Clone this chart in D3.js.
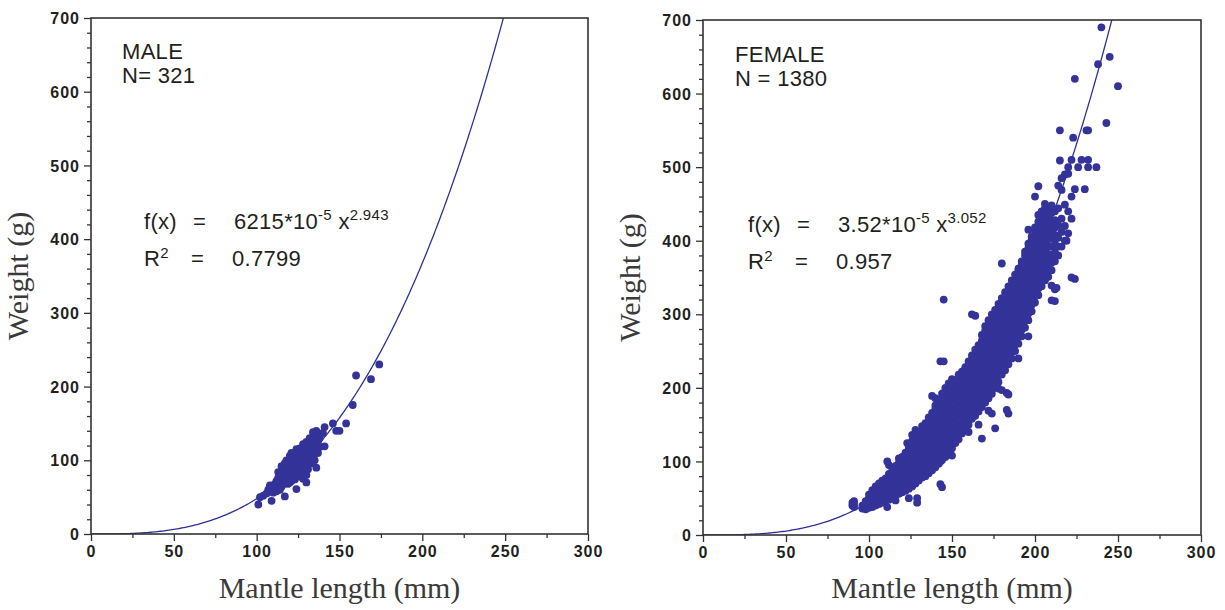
<!DOCTYPE html>
<html>
<head>
<meta charset="utf-8">
<script src="https://cdn.jsdelivr.net/npm/d3@7"></script>
<style>
  body { margin: 0; background: #fff; }
  svg { display: block; }
  .tick text { font-family: "Liberation Sans", Arial, sans-serif; font-weight: bold; font-size: 16px; letter-spacing: 1px; fill: #231f20; }
  .tick line { stroke: #333; stroke-width: 1.3; }
  .ann { font-family: "Liberation Sans", Arial, sans-serif; font-size: 22px; letter-spacing: 0.3px; fill: #231f20; }
  .title { font-family: "Liberation Serif", "Times New Roman", serif; font-size: 30px; fill: #3a3a3a; }
</style>
</head>
<body>
<div id="chart"></div>
<script>
// axis ticks
var xTicks = [0, 50, 100, 150, 200, 250, 300];
var yTicks = [0, 100, 200, 300, 400, 500, 600, 700];

// fitted curves  f(x) = a * x^b
var maleFit = [6.215e-5, 2.943];
var femaleFit = [3.52e-5, 3.052];

// male points [mantle length, weight]
var malePoints = [
  [101,40],[102,50],[104,52],[106,55],[107,60],[108,58],[109,45],[109,62],[110,56],[108,66],[110,64],
  [111,60],[111,68],[112,58],[112,65],[112,72],[113,62],[113,70],[113,76],[113,84],[114,60],[114,67],[114,74],[114,80],
  [115,64],[115,72],[115,78],[115,85],[115,92],[116,70],[116,76],[116,82],[116,90],[117,51],[117,68],[117,74],
  [117,80],[117,86],[117,96],[118,72],[118,78],[118,84],[118,92],[118,100],[119,68],[119,75],[119,82],[119,88],[119,95],
  [120,70],[120,78],[120,85],[120,92],[120,100],[120,106],[121,72],[121,110],[121,80],[121,87],[121,94],[121,102],
  [122,75],[122,84],[122,90],[122,98],[122,106],[123,74],[123,80],[123,88],[123,95],[123,103],[123,110],
  [124,61],[124,85],[124,92],[124,100],[124,108],[124,115],[125,78],[125,88],[125,96],[125,104],[125,112],
  [126,82],[126,90],[126,92],[126,100],[126,108],[126,116],[127,80],[127,88],[127,96],[127,104],[127,112],
  [128,75],[128,92],[128,100],[128,108],[128,118],[128,122],[129,86],[129,96],[129,105],[129,114],
  [130,70],[130,80],[130,100],[130,110],[130,120],[130,125],[131,88],[131,95],[131,106],[131,116],[132,100],[132,112],
  [132,124],[132,130],[133,96],[133,105],[133,118],[134,110],[134,122],[134,130],[134,138],[135,100],[135,108],[135,115],[135,128],
  [136,90],[136,120],[136,134],[136,140],[137,110],[137,118],[137,125],[138,118],[138,130],[140,137],
  [141,119],[141,145],[146,150],[148,140],[150,140],[154,150],[158,175],[160,215],[169,210],[174,230]
];

// female points, grouped by mantle length: [x, [weights]]
var femaleRows = [
  [90,[40,44]],[91,[38,42,46]],[96,[36,40]],[98,[35,38,42,46]],[100,[37,41,45,50,55]],
  [102,[38,43,48,53,58,61]],[104,[40,45,50,55,60,66]],[106,[42,47,52,58,64,70]],
  [108,[44,50,56,62,68,74]],[110,[46,52,58,64,70,77]],[111,[38,100]],
  [112,[48,55,62,69,76,83,95]],[114,[50,57,64,72,80,88]],[116,[47,54,62,70,78,86,94]],
  [118,[56,63,70,77,84,91,98,104]],[120,[58,65,72,79,86,93,100,106]],
  [122,[60,67,74,81,88,95,102,109,112]],[123,[125]],
  [124,[50,63,70,77,84,91,98,105,112,118,120]],[126,[66,73,80,88,96,104,112,120,128,136]],
  [128,[70,78,86,94,102,110,118,126,134,143]],[129,[44,50]],
  [130,[74,82,90,98,106,114,122,130,138]],[132,[78,86,95,104,113,122,131,140,148]],
  [134,[80,89,98,107,116,125,134,143,152]],[136,[84,93,102,111,120,129,138,147,156,160]],
  [138,[88,97,106,115,124,133,142,151,160,166,189]],
  [140,[92,101,110,119,128,137,146,155,164,172,176,186]],
  [142,[97,106,115,124,133,142,151,160,169,178,184]],[143,[69,100,236]],
  [144,[65,102,111,120,129,138,147,156,165,174,183,192]],[145,[236,320]],
  [146,[106,115,124,133,142,151,160,169,178,187,196,200]],
  [148,[112,121,130,139,148,157,166,175,184,193,202,206]],
  [150,[108,118,127,136,145,154,163,172,181,190,199,208,212]],
  [152,[125,134,143,152,161,170,179,188,197,206,210]],
  [154,[130,139,148,157,166,175,184,193,202,211,218]],
  [156,[138,147,156,165,174,183,192,201,210,219,222]],
  [158,[144,153,162,171,180,189,198,207,216,225,228]],
  [160,[140,150,159,168,177,186,195,204,213,222,231,236]],
  [162,[158,167,176,185,194,203,212,221,230,239,244,300]],
  [164,[162,171,180,189,198,207,216,225,234,243,252,298]],
  [166,[150,168,177,186,195,204,213,222,231,240,249,258]],
  [168,[131,174,183,192,201,210,219,228,237,246,255,264,272]],
  [170,[180,189,198,207,216,225,234,243,252,261,270,278,284]],
  [172,[169,186,195,204,213,222,231,240,249,258,267,276,285,292]],
  [174,[165,192,201,210,219,228,237,246,255,264,273,282,291,300]],
  [176,[145,200,209,218,227,236,245,254,263,272,281,290,299,306]],
  [178,[199,208,217,226,235,244,253,262,271,280,289,298,307,314]],
  [180,[197,218,227,236,245,254,263,272,281,290,299,308,316,322,369]],
  [182,[224,233,242,251,260,269,278,287,296,305,314,323,330]],[183,[170,193]],
  [184,[165,191,232,241,250,259,268,277,286,295,304,313,322,331,338]],
  [186,[240,249,258,267,276,285,294,303,312,321,330,339,346]],
  [188,[250,259,268,277,286,295,304,313,322,331,340,348,354]],
  [190,[240,260,269,278,287,296,305,314,323,332,341,350,358,362]],
  [192,[270,279,288,297,306,315,324,333,342,351,360,368,372]],
  [194,[282,291,300,309,318,327,336,345,354,363,372,380,385]],
  [196,[270,292,301,310,319,328,337,346,355,364,373,382,390,396,415]],
  [198,[304,313,322,331,340,349,358,367,376,385,394,402,406]],
  [200,[316,325,334,343,352,361,370,379,388,397,406,414,418,460]],
  [202,[326,335,344,353,362,371,380,389,398,407,416,426,435,474]],
  [204,[338,347,356,365,374,383,392,401,410,419,428,436,440]],[205,[426]],
  [206,[346,356,366,376,386,396,406,416,426,436,444,450]],
  [208,[351,362,372,382,392,402,412,422,432,442]],
  [210,[319,339,360,370,380,392,404,414,426,438,448]],
  [212,[318,334,372,384,396,408,418,428,440]],[213,[336]],[214,[380,392,404,421,444,475]],
  [215,[509,550]],[216,[392,412,430,469,485]],[218,[400,420,449,490]],[219,[400]],
  [220,[410,440,491,500]],[222,[350,430,460,510]],[223,[540]],[224,[348,470,620]],
  [226,[500]],[228,[510]],[230,[470]],[231,[550]],[232,[500,510,550]],[237,[500]],
  [238,[640]],[240,[690]],[243,[560]],[245,[650]],[250,[610]]
];

var femalePoints = [];
femaleRows.forEach(function(r) {
  r[1].forEach(function(w) { femalePoints.push([r[0], w]); });
});

var width = 1225, height = 610;
var svg = d3.select("#chart").append("svg")
  .attr("width", width)
  .attr("height", height);

function drawPanel(opt) {
  var x = d3.scaleLinear().domain([0, 300]).range([opt.left, opt.right]);
  var y = d3.scaleLinear().domain([0, 700]).range([opt.bottom, opt.top]);
  var g = svg.append("g");

  // clip for the curve
  var clipId = "clip" + opt.id;
  svg.append("clipPath").attr("id", clipId)
    .append("rect")
      .attr("x", opt.left).attr("y", opt.top)
      .attr("width", opt.right - opt.left).attr("height", opt.bottom - opt.top);

  // minor ticks
  g.append("g")
    .attr("transform", "translate(0," + opt.bottom + ")")
    .call(d3.axisBottom(x).tickValues(d3.range(25, 300, 50)).tickSize(4).tickFormat(""))
    .call(function(a) { a.select(".domain").remove(); });
  g.append("g")
    .attr("transform", "translate(" + opt.left + ",0)")
    .call(d3.axisLeft(y).tickValues(d3.range(20, 700, 20).filter(function(v) { return v % 100 != 0; }))
      .tickSize(4).tickFormat(""))
    .call(function(a) { a.select(".domain").remove(); });

  // major ticks
  g.append("g")
    .attr("transform", "translate(0," + opt.bottom + ")")
    .call(d3.axisBottom(x).tickValues(xTicks).tickSize(7).tickPadding(5))
    .call(function(a) { a.select(".domain").remove(); });
  g.append("g")
    .attr("transform", "translate(" + opt.left + ",0)")
    .call(d3.axisLeft(y).tickValues(yTicks).tickSize(7).tickPadding(4))
    .call(function(a) { a.select(".domain").remove(); a.selectAll("text").attr("dy", "0.35em"); });

  // fitted curve
  var a = opt.fit[0], b = opt.fit[1];
  var curve = d3.range(0, 300.5, 1).map(function(v) { return [v, a * Math.pow(v, b)]; });
  g.append("path")
    .datum(curve)
    .attr("clip-path", "url(#" + clipId + ")")
    .attr("fill", "none")
    .attr("stroke", "#2e3192")
    .attr("stroke-width", 1.3)
    .attr("d", d3.line().x(function(d) { return x(d[0]); }).y(function(d) { return y(d[1]); }));

  // points
  g.selectAll("circle.pt")
    .data(opt.points)
    .enter()
    .append("circle")
      .attr("class", "pt")
      .attr("cx", function(d) { return x(d[0]); })
      .attr("cy", function(d) { return y(d[1]); })
      .attr("r", 3.9)
      .style("fill", "#333399");

  // frame
  g.append("rect")
    .attr("x", opt.left).attr("y", opt.top)
    .attr("width", opt.right - opt.left).attr("height", opt.bottom - opt.top)
    .attr("fill", "none")
    .attr("stroke", "#333")
    .attr("stroke-width", 1.6);

  // axis titles
  g.append("text")
    .attr("class", "title")
    .attr("text-anchor", "middle")
    .attr("x", (opt.left + opt.right) / 2)
    .attr("y", 598)
    .text("Mantle length (mm)");
  g.append("text")
    .attr("class", "title")
    .attr("text-anchor", "middle")
    .attr("transform", "translate(" + (opt.left - 63) + "," + ((opt.top + opt.bottom) / 2) + ") rotate(-90)")
    .text("Weight (g)");

  // annotations
  g.append("text").attr("class", "ann").attr("x", opt.labelX).attr("y", opt.labelY).text(opt.label);
  g.append("text").attr("class", "ann").attr("x", opt.labelX).attr("y", opt.labelY + 24).text(opt.nText);

  var fx = g.append("text").attr("class", "ann").attr("y", opt.eqY);
  fx.append("tspan").attr("x", opt.eqX).text("f(x)");
  fx.append("tspan").attr("x", opt.eqX + 49).text("=");
  fx.append("tspan").attr("x", opt.eqX + 90).text(opt.coef + "*10");
  fx.append("tspan").attr("dy", -9).style("font-size", "15px").text("-5");
  fx.append("tspan").attr("dy", 9).text(" x");
  fx.append("tspan").attr("dy", -9).style("font-size", "15px").text(opt.expo);

  var r2 = g.append("text").attr("class", "ann").attr("y", opt.eqY + 37);
  r2.append("tspan").attr("x", opt.eqX).text("R");
  r2.append("tspan").attr("dy", -8).style("font-size", "15px").text("2");
  r2.append("tspan").attr("dy", 8).attr("x", opt.eqX + 47).text("=");
  r2.append("tspan").attr("x", opt.eqX + 88).text(opt.r2);
}

drawPanel({
  id: "m", left: 91, right: 588, top: 18, bottom: 534,
  fit: maleFit, points: malePoints,
  label: "MALE", nText: "N= 321", labelX: 122, labelY: 59,
  eqX: 144, eqY: 229, coef: "6215", expo: "2.943", r2: "0.7799"
});

drawPanel({
  id: "f", left: 703, right: 1201, top: 20, bottom: 535,
  fit: femaleFit, points: femalePoints,
  label: "FEMALE", nText: "N = 1380", labelX: 735, labelY: 62,
  eqX: 748, eqY: 232, coef: "3.52", expo: "3.052", r2: "0.957"
});
</script>
</body>
</html>
